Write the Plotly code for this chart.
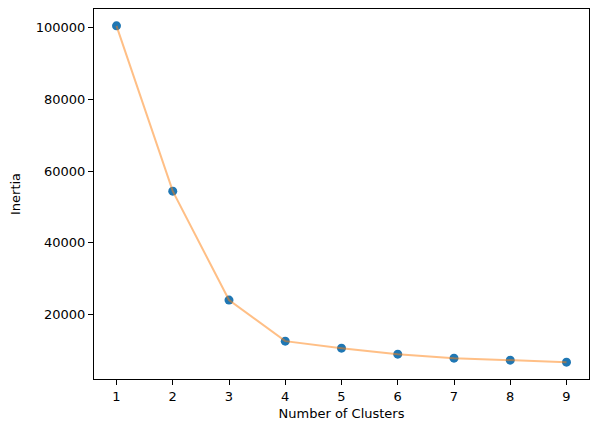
import plotly.graph_objects as go

clusters = [1, 2, 3, 4, 5, 6, 7, 8, 9]
inertia = [100560, 54400, 24000, 12530, 10570, 8900, 7780, 7220, 6660]
x_ticks = [1, 2, 3, 4, 5, 6, 7, 8, 9]
y_ticks = [20000, 40000, 60000, 80000, 100000]

fig = go.Figure()
fig.add_trace(go.Scatter(
    x=clusters, y=inertia, mode="markers",
    marker=dict(color="#1f77b4", size=9, line=dict(width=0)),
    showlegend=False,
))
fig.add_trace(go.Scatter(
    x=clusters, y=inertia, mode="lines",
    line=dict(color="rgba(255,127,14,0.5)", width=2),
    showlegend=False,
))

axis_common = dict(
    showline=True, linecolor="black", linewidth=1.1, mirror=True,
    ticks="outside", ticklen=5, tickwidth=1, tickcolor="black",
    showgrid=False, zeroline=False, automargin=False,
    tickfont=dict(family="DejaVu Sans", size=13, color="black"),
)

fig.update_layout(
    width=598, height=432,
    margin=dict(l=94, r=9, t=9, b=53, pad=0, autoexpand=False),
    paper_bgcolor="white", plot_bgcolor="white",
    font=dict(family="DejaVu Sans", size=13, color="black"),
    xaxis=dict(
        range=[0.6, 9.4], tickvals=x_ticks, ticktext=[str(v) for v in x_ticks],
        title=dict(text="Number of Clusters", font=dict(size=13), standoff=6),
        **axis_common,
    ),
    yaxis=dict(
        range=[1960, 105260], tickvals=y_ticks, ticktext=[str(v) for v in y_ticks],
        title=dict(text="Inertia", font=dict(size=13), standoff=12),
        **axis_common,
    ),
)

fig.write_html(
    "out.html",
    config={"responsive": False, "displayModeBar": False},
    post_script="document.body.style.margin='0';document.body.style.overflow='hidden';",
)
